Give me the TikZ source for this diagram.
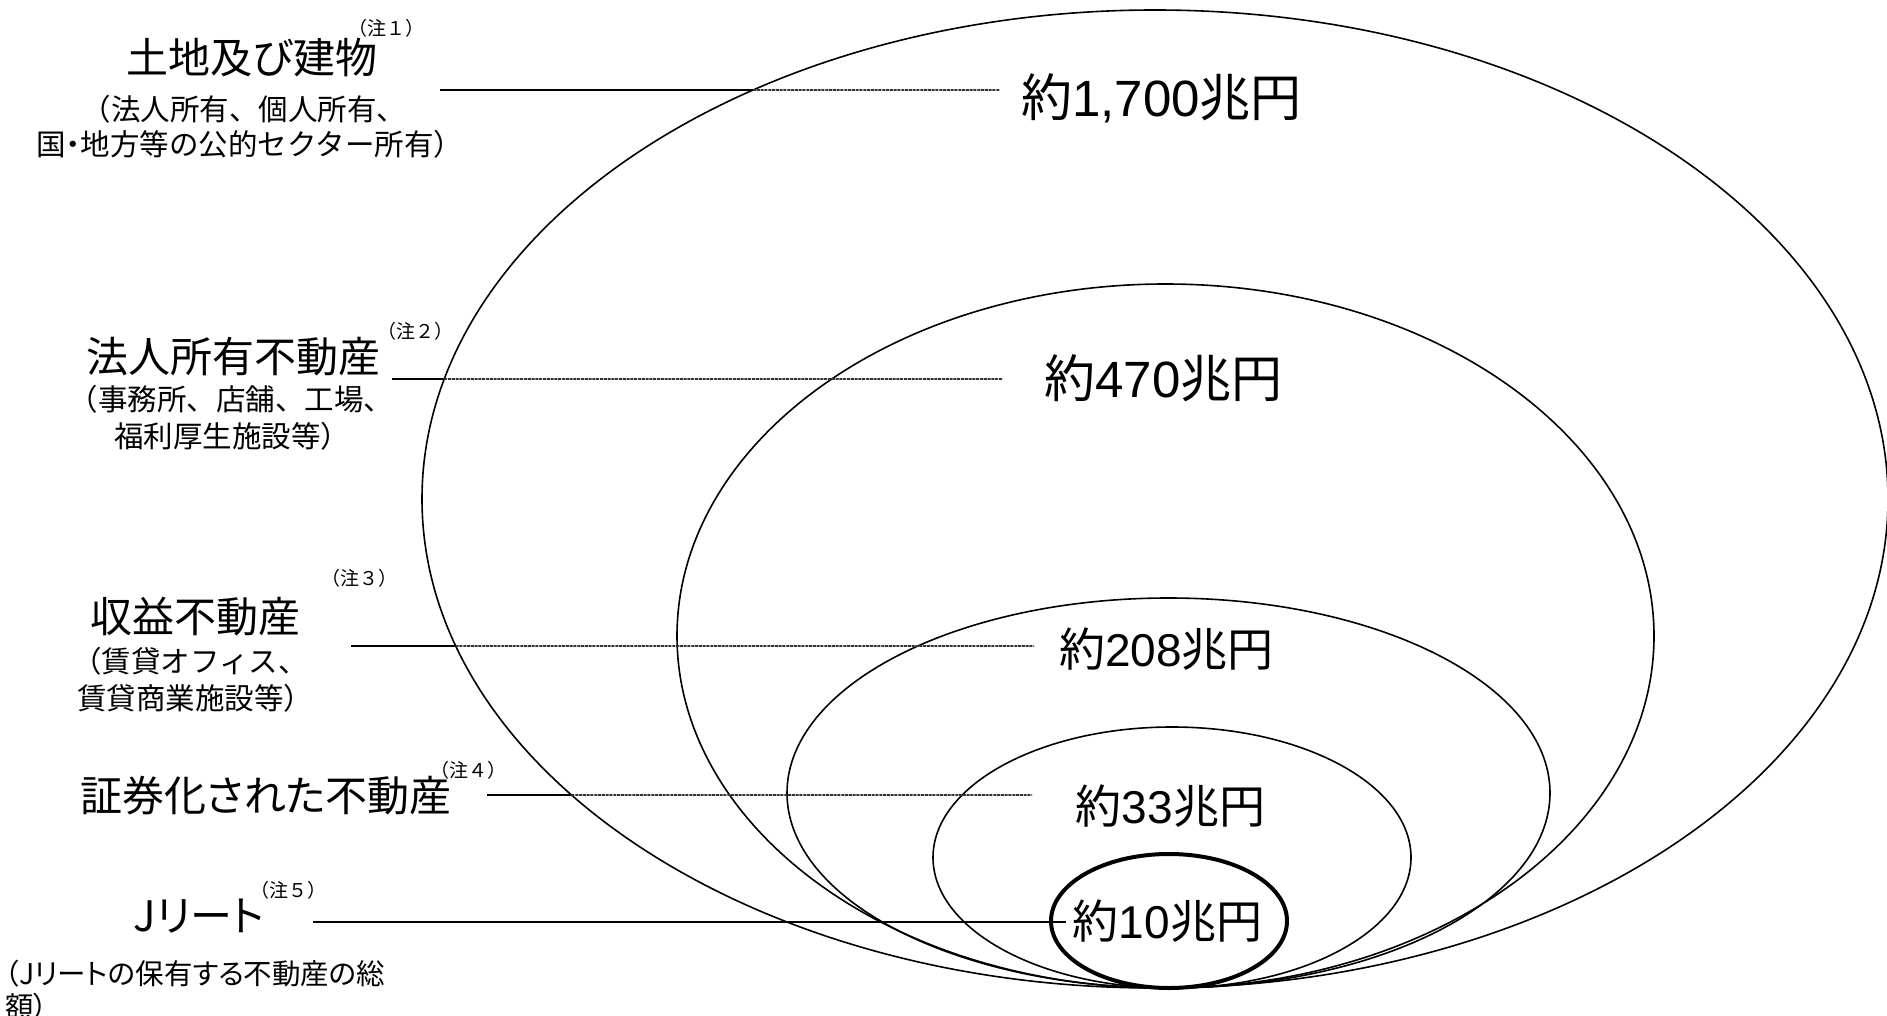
\documentclass[tikz,border=0pt]{standalone}
\usepackage{fontspec}
\usetikzlibrary{intersections}
\newfontfamily\jp[RawFeature=+palt]{Noto Sans CJK JP}
\newfontfamily\jpf{Noto Sans CJK JP}
\newfontfamily\lat{Liberation Sans}
\tikzset{
  ttl/.style={font=\jp\fontsize{42}{48}\selectfont, anchor=base, inner sep=0pt},
  sub/.style={font=\jpf\fontsize{29.5}{35}\selectfont, anchor=base, inner sep=0pt},
  subl/.style={font=\jp\fontsize{28.5}{34}\selectfont, anchor=base west, inner sep=0pt},
  note/.style={font=\jpf\fontsize{19}{22}\selectfont, anchor=base, inner sep=0pt},
  valbig/.style={font=\jp\fontsize{51}{58}\selectfont, anchor=base, inner sep=0pt},
  valsm/.style={font=\jp\fontsize{46}{52}\selectfont, anchor=base, inner sep=0pt},
  ring/.style={draw=black, line width=1.6pt},
  ringthick/.style={draw=black, line width=4pt},
  leadout/.style={draw=black, line width=1.8pt},
  leadin/.style={draw=black!80, line width=1.8pt, dash pattern=on 3pt off 0.8pt},
}
\begin{document}
\begin{tikzpicture}[x=1pt,y=-1pt]
\useasboundingbox[fill=white] (0,0) rectangle (1887,1016);

% nested ellipses (all tangent at the bottom)
\draw[ring, name path=outer] (1155,499) ellipse [x radius=733pt, y radius=489pt];
\draw[ring] (1165.5,636) ellipse [x radius=488.5pt, y radius=352pt];
\draw[ring] (1168.5,793) ellipse [x radius=381.5pt, y radius=195pt];
\draw[ring] (1172,857.5) ellipse [x radius=239pt, y radius=130.5pt];
\draw[ringthick] (1169,921) ellipse [x radius=118pt, y radius=67pt];

% left labels
\node[ttl]  (t1)  at (252,74)   {土地及び建物};
\node[note] (n1)  at (386,36)   {（注１）};
\node[sub]  (s1a) at (244,121)  {（法人所有、個人所有、};
\node[sub]  (s1b) at (250,156)  {国{\jp ・}地方等の公的セクター所有）};

\node[ttl]  (t2)  at (233,372)  {法人所有不動産};
\node[note] (n2)  at (415,338)  {（注２）};
\node[sub]  (s2a) at (231,410)  {（事務所、店舗、工場、};
\node[sub]  (s2b) at (232,447)  {福利厚生施設等）};

\node[ttl]  (t3)  at (195,632)  {収益不動産};
\node[note] (n3)  at (359,585)  {（注３）};
\node[sub]  (s3a) at (190,672)  {（賃貸オフィス、};
\node[sub]  (s3b) at (195,709)  {賃貸商業施設等）};

\node[ttl]  (t4)  at (266,811)  {証券化された不動産};
\node[note] (n4)  at (468,777)  {（注４）};

\node[ttl]  (t5)  at (199,931)  {Jリート};
\node[note] (n5)  at (288,897)  {（注５）};
\node[subl] (s5a) at (5,984)    {（Jリートの保有する不動産の総};
\node[subl] (s5b) at (5,1017)   {額）};

% values
\node[valbig] (v1) at (1161.5,116.5) {約{\lat 1,700}兆円};
\node[valbig] (v2) at (1163.5,397.5) {約{\lat 470}兆円};
\node[valsm]  (v3) at (1166.5,666.5) {約{\lat 208}兆円};
\node[valsm]  (v4) at (1170.5,823.5) {約{\lat 33}兆円};
\node[valsm]  (v5) at (1167.5,938.5) {約{\lat 10}兆円};

% connector end points
\coordinate (a1) at (440,90);   \coordinate (b1) at (1000,90);
\coordinate (a2) at (392,379);  \coordinate (b2) at (1002,379);
\coordinate (a3) at (351,646);  \coordinate (b3) at (1034,646);
\coordinate (a4) at (487,795);  \coordinate (b4) at (1032,795);
\coordinate (a5) at (313,922);  \coordinate (b5) at (1066,922);

\foreach \i in {1,2,3,4}{
  \path[name path=L\i] (a\i) -- (b\i);
  \path[name intersections={of=outer and L\i, by={m\i}}];
  \draw[leadout] (a\i) -- (m\i);
  \draw[leadin]  (m\i) -- (b\i);
}
\draw[leadout] (a5) -- (b5);
\end{tikzpicture}
\end{document}
